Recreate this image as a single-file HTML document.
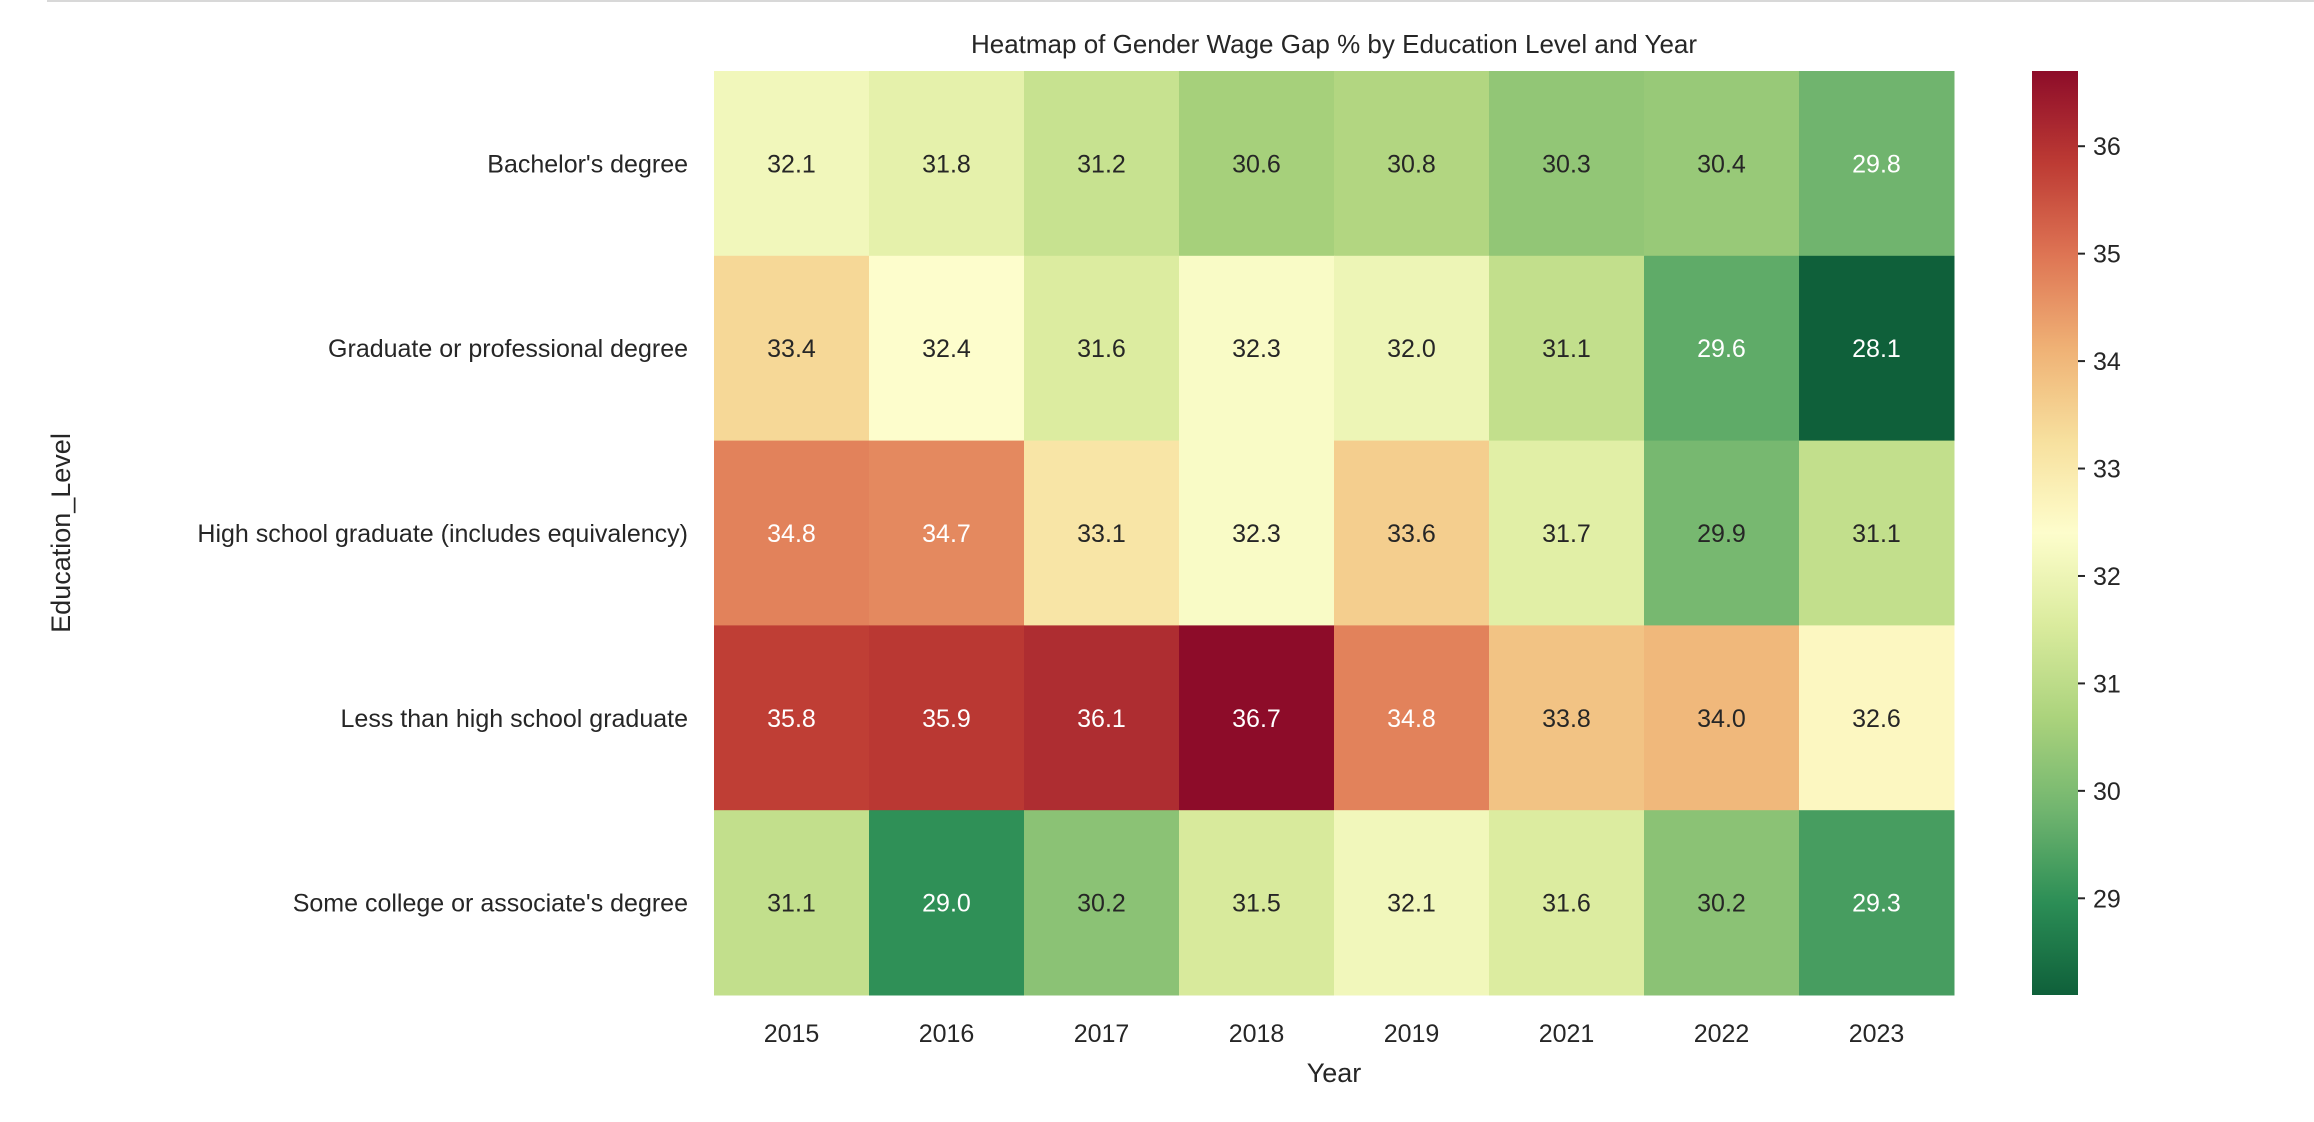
<!DOCTYPE html>
<html><head><meta charset="utf-8"><style>
html,body{margin:0;padding:0;background:#fff;width:2314px;height:1122px;overflow:hidden}
svg text{font-family:"Liberation Sans",sans-serif;fill:#262626}
</style></head><body>
<svg id="chart" width="2314" height="1122" xmlns="http://www.w3.org/2000/svg">
<line x1="47" y1="1" x2="2314" y2="1" stroke="#d8d8d8" stroke-width="2"/>
<text x="1334" y="53" font-size="26" text-anchor="middle">Heatmap of Gender Wage Gap % by Education Level and Year</text>
<text x="1334" y="1082" font-size="27" text-anchor="middle">Year</text>
<text transform="translate(70,533) rotate(-90)" font-size="27" text-anchor="middle">Education_Level</text>
<g id="cells"></g><g id="xticks"></g><g id="yticks"></g><g id="cbar"></g>
</svg>
<script>
const years = ["2015","2016","2017","2018","2019","2021","2022","2023"];
const levels = ["Bachelor's degree","Graduate or professional degree","High school graduate (includes equivalency)","Less than high school graduate","Some college or associate's degree"];
const rowBachelor = [32.1,31.8,31.2,30.6,30.8,30.3,30.4,29.8];
const rowGraduate = [33.4,32.4,31.6,32.3,32.0,31.1,29.6,28.1];
const rowHighSchool = [34.8,34.7,33.1,32.3,33.6,31.7,29.9,31.1];
const rowLessHS = [35.8,35.9,36.1,36.7,34.8,33.8,34.0,32.6];
const rowSomeCollege = [31.1,29.0,30.2,31.5,32.1,31.6,30.2,29.3];
const cbarTicks = [29,30,31,32,33,34,35,36];

const values = [rowBachelor,rowGraduate,rowHighSchool,rowLessHS,rowSomeCollege];
const all = values.flat();
const vmin = Math.min(...all), vmax = Math.max(...all);
const X0=714, X1=1954, Y0=71, Y1=995;
const cw=(X1-X0)/years.length, ch=(Y1-Y0)/levels.length;
const xs = i => X0 + i*cw;
const ys = j => Y0 + j*ch;
const stops = ["#006837","#1a9850","#66bd63","#a6d96a","#d9ef8b","#ffffbf","#fee08b","#fdae61","#f46d43","#d73027","#a50026"].map(h=>[1,3,5].map(k=>parseInt(h.substr(k,2),16)));
function rawmap(v){
  let t=(v-vmin)/(vmax-vmin); t=Math.max(0,Math.min(1,t));
  const p=t*(stops.length-1), i=Math.min(Math.floor(p),stops.length-2), f=p-i;
  return stops[i].map((c,k)=>c+(stops[i+1][k]-c)*f);
}
function cmap(v){
  const c=rawmap(v);
  const g=0.3*c[0]+0.59*c[1]+0.11*c[2];
  const d=0.22;
  return c.map(x=>Math.round(x*(1-d)+g*d));
}
function lum(rgb){
  const c=rgb.map(x=>{x/=255;return x<=0.03928?x/12.92:Math.pow((x+0.055)/1.055,2.4)});
  return 0.2126*c[0]+0.7152*c[1]+0.0722*c[2];
}
const NS="http://www.w3.org/2000/svg";
function mk(tag,attrs,parent){const e=document.createElementNS(NS,tag);for(const k in attrs)e.setAttribute(k,attrs[k]);parent.appendChild(e);return e;}
const cells=document.getElementById('cells');
values.forEach((row,j)=>row.forEach((v,i)=>{
  const rgb=cmap(v);
  const r=mk('rect',{x:xs(i),y:ys(j),width:cw+0.5,height:ch+0.5,fill:`rgb(${rgb})`},cells);
  
  
  const t=mk('text',{x:xs(i)+cw/2,y:ys(j)+ch/2+9,'font-size':25,'text-anchor':'middle'},cells);
  
  
  t.style.fill = lum(rawmap(v))<0.408 ? '#ffffff' : '#262626';
  t.textContent=v.toFixed(1);
}));
const xt=document.getElementById('xticks');
years.forEach((y,i)=>{
  const t=mk('text',{x:xs(i)+cw/2,y:1042,'font-size':25,'text-anchor':'middle'},xt);
  
  
  t.textContent=y;
});
const yt=document.getElementById('yticks');
levels.forEach((l,j)=>{
  const t=mk('text',{x:688,y:ys(j)+ch/2+9,'font-size':25,'text-anchor':'end'},yt);
  
  
  t.textContent=l;
});
const cb=document.getElementById('cbar');
const CX0=2032,CX1=2078;
const cy = v => Y1 - (v-vmin)/(vmax-vmin)*(Y1-Y0);
const defs=mk('defs',{},cb);
const g=mk('linearGradient',{id:'cbgrad',x1:0,y1:1,x2:0,y2:0},defs);
for(let k=0;k<=40;k++){const v=vmin+(vmax-vmin)*k/40;mk('stop',{offset:k/40,'stop-color':`rgb(${cmap(v)})`},g);}
const bar=mk('rect',{x:CX0,y:Y0,width:CX1-CX0,height:Y1-Y0,fill:'url(#cbgrad)'},cb);


cbarTicks.forEach(v=>{
  const yy=cy(v);
  const l=mk('line',{x1:CX1,x2:CX1+7,y1:yy,y2:yy,stroke:'#262626','stroke-width':2},cb);
  
  
  const t=mk('text',{x:2093,y:yy+9,'font-size':25},cb);
  
  
  t.textContent=v;
});
</script>
</body></html>
